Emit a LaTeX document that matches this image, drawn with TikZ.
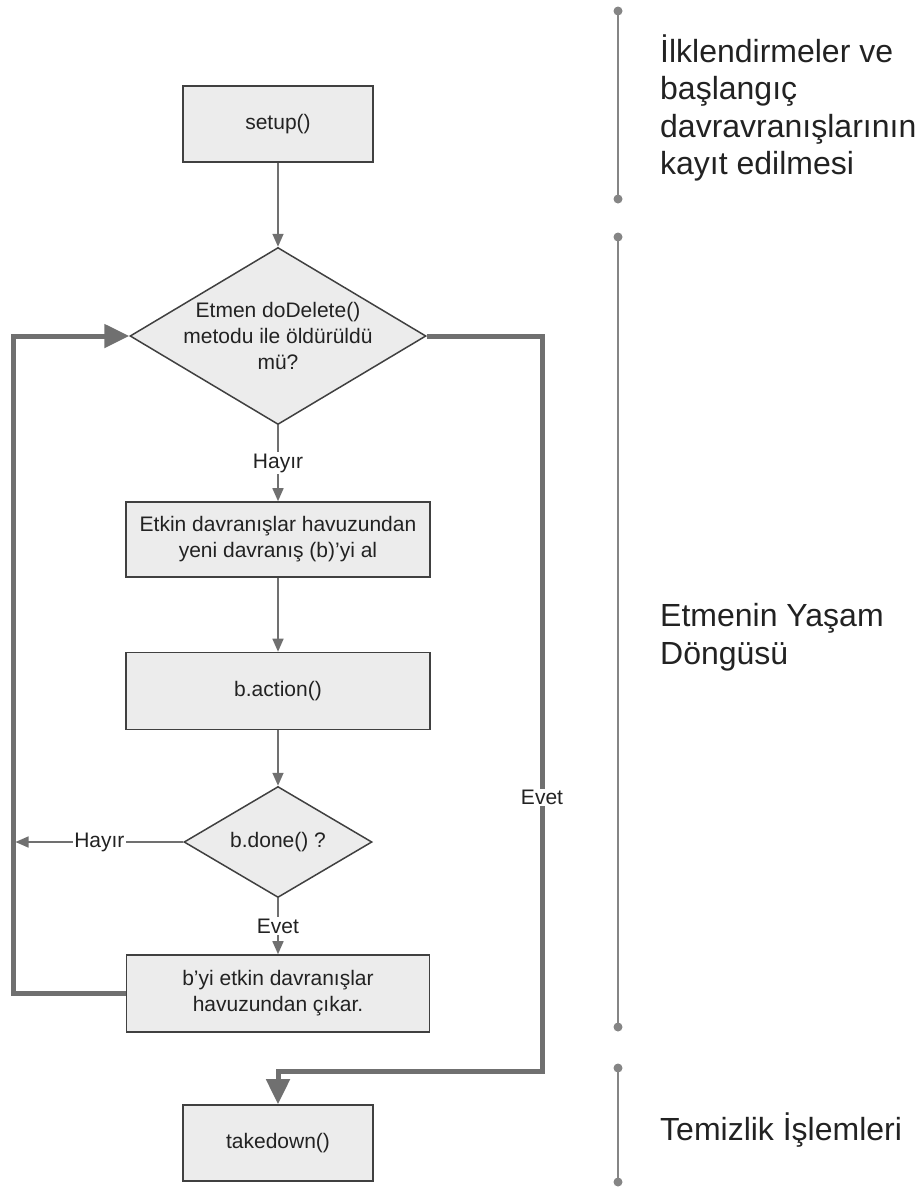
\documentclass[tikz,border=0pt]{standalone}
\usepackage{fontspec}
\setmainfont{Liberation Sans}
\usetikzlibrary{shapes.geometric,arrows.meta}
\definecolor{boxfill}{HTML}{ECECEC}
\definecolor{boxline}{HTML}{404040}
\definecolor{flow}{HTML}{707070}
\definecolor{rail}{HTML}{858585}
\definecolor{ink}{HTML}{222222}
\begin{document}
\begin{tikzpicture}[x=1pt,y=-1pt,
  stepbox/.style={rectangle, draw=boxline, fill=boxfill, line width=1.6pt,
    inner sep=0pt, text=ink, align=center, font=\fontsize{21}{26}\selectfont},
  decision/.style={diamond, draw=boxline, fill=boxfill, line width=1.5pt, inner sep=0pt},
  decisiontext/.style={text=ink, align=center, inner sep=0pt, font=\fontsize{21}{26}\selectfont},
  thinflow/.style={draw=flow, line width=1.6pt, -{Triangle[length=13pt,width=11pt]}},
  thickflow/.style={draw=flow, line width=5pt, line join=miter, -{Triangle[length=25pt,width=23pt]}},
  flowlabel/.style={fill=white, text=ink, inner sep=1.5pt, font=\fontsize{21}{24}\selectfont},
  phase/.style={anchor=west, align=left, text=ink, inner sep=0pt, font=\fontsize{32}{37.5}\selectfont},
  railline/.style={draw=rail, line width=2pt},
]
\useasboundingbox (0,0) rectangle (919,1187);

% flowchart nodes
\node[stepbox, minimum width=190pt, minimum height=76pt] (setup) at (278,124) {setup()};
\node[decision, minimum width=296pt, minimum height=177pt] (d1) at (278,336) {};
\node[decisiontext] (d1t) at (278,336) {Etmen doDelete()\\metodu ile öldürüldü\\mü?};
\node[stepbox, minimum width=304pt, minimum height=75pt] (take) at (278,539.5)
  {Etkin davranışlar havuzundan\\yeni davranış (b)'yi al};
\node[stepbox, minimum width=304pt, minimum height=77pt] (act) at (278,691) {b.action()};
\node[decision, minimum width=188pt, minimum height=111pt] (d2) at (278,842) {};
\node[decisiontext] (d2t) at (278,842) {b.done() ?};
\node[stepbox, minimum width=303pt, minimum height=77pt] (remove) at (278,993.5)
  {b'yi etkin davranışlar\\havuzundan çıkar.};
\node[stepbox, minimum width=190pt, minimum height=76pt] (down) at (278,1143) {takedown()};

% routing points of the outer loops
\coordinate (loopx) at (13,600);
\coordinate (exitx) at (542,700);
\coordinate (joiny) at (400,1071);
\coordinate (hayirend) at (15.5,842);

% straight flow
\draw[thinflow] (setup.south) -- (d1.north);
\draw[thinflow] (d1.south) -- node[flowlabel] {Hayır} (take.north);
\draw[thinflow] (take.south) -- (act.north);
\draw[thinflow] (act.south) -- (d2.north);
\draw[thinflow] (d2.south) -- node[flowlabel] {Evet} (remove.north);
\draw[thinflow] (d2.west) -- node[flowlabel] {Hayır} (hayirend);

% loop back to the decision
\draw[thickflow] (remove.west) -- (remove.west -| loopx) -- (d1.west -| loopx) -- (d1.west);

% exit to takedown
\draw[thickflow] (d1.east) -- (d1.east -| exitx)
  -- node[flowlabel, pos=0.628] {Evet} (exitx |- joiny)
  -- (down.north |- joiny) -- (down.north);

% phase rails
\draw[railline] (618,11) -- (618,199);
\draw[railline] (618,237) -- (618,1027);
\draw[railline] (618,1068) -- (618,1182);
\foreach \y in {11,199,237,1027,1068,1182}
  \fill[rail] (618,\y) circle[radius=4.5pt];

% phase titles
\node[phase] (p1) at (660,108) {İlklendirmeler ve\\başlangıç\\davravranışlarının\\kayıt edilmesi};
\node[phase] (p2) at (660,637) {Etmenin Yaşam\\Döngüsü};
\node[phase] (p3) at (660,1130) {Temizlik İşlemleri};
\end{tikzpicture}
\end{document}
